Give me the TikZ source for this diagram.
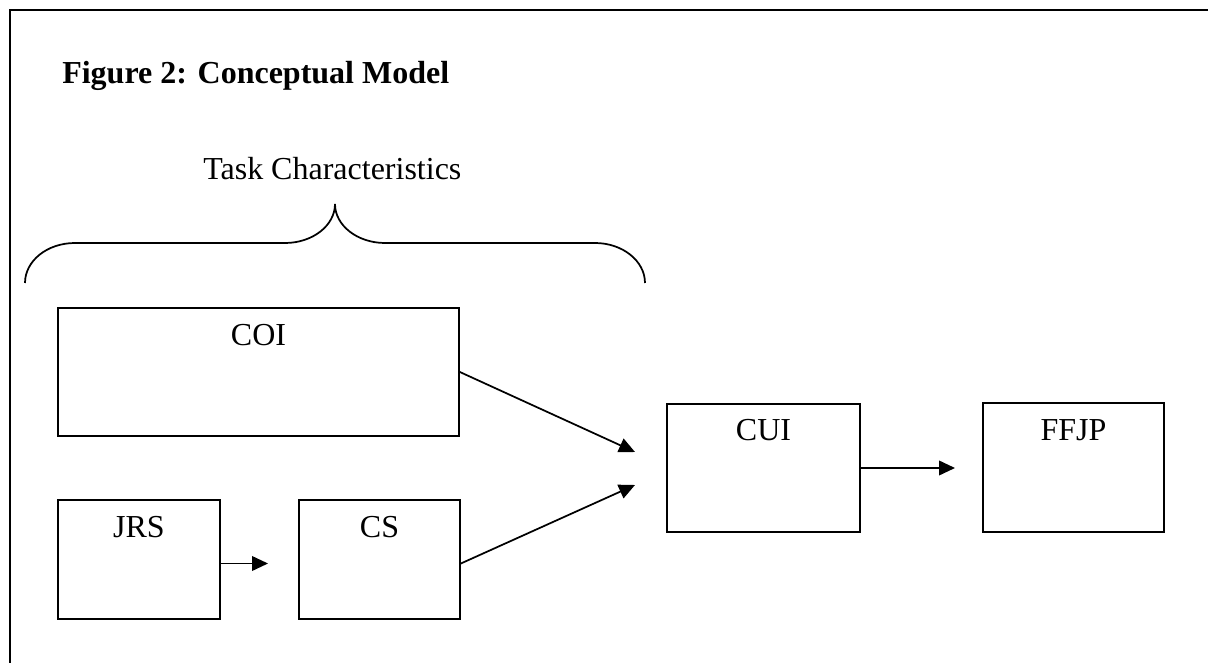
\documentclass[tikz,border=0pt]{standalone}
\usepackage{fontspec}
\setmainfont{Liberation Serif}
\usetikzlibrary{fit,calc,arrows.meta}
\tikzset{
  px/.style={x=0.75pt,y=-0.75pt},
  box/.style={draw, line width=1.3pt, inner sep=0pt},
  lbl/.style={font=\fontsize{24}{28}\selectfont, anchor=base, inner sep=0pt},
  arr/.style={line width=1.3pt, -{Triangle[length=12pt,width=11pt]}},
  frameline/.style={line width=1.5pt},
  bracestyle/.style={line width=1.3pt},
}
\begin{document}
\begin{tikzpicture}[px]
\useasboundingbox (0,0) rectangle (1208,663);
% frame
\coordinate (fa) at (10,663);
\coordinate (fb) at (10,10);
\coordinate (fc) at (1208,10);
\draw[frameline] (fa) -- (fb) -- (fc);
% title
\node[anchor=base west, inner sep=0pt, font=\fontsize{24}{28}\selectfont\bfseries] (title) at (62,84) {Figure 2: Conceptual Model};
\node[anchor=base west, inner sep=0pt, font=\fontsize{24}{28}\selectfont] (task) at (203,180) {Task Characteristics};
% brace
\coordinate (bl) at (25,283);
\coordinate (bt) at (335,204);
\coordinate (br) at (645,283);
\draw[bracestyle] (bl) .. controls (25,261) and (47,243) .. (75,243)
  -- (285,243) .. controls (312.6,243) and (335,225.5) .. (bt)
  .. controls (335,225.5) and (357.4,243) .. (385,243)
  -- (595,243) .. controls (622.6,243) and (645,261) .. (br);
% boxes
\node[box, fit={(58,308) (459,436)}] (coi) {};
\node[box, fit={(58,500) (220,619)}] (jrs) {};
\node[box, fit={(299,500) (460,619)}] (cs) {};
\node[box, fit={(667,404) (860,532)}] (cui) {};
\node[box, fit={(983,403) (1164,532)}] (ffjp) {};
% labels
\node[lbl] (coil) at ($(coi.north)+(0,38)$) {COI};
\node[lbl] (jrsl) at ($(jrs.north)+(0,38)$) {JRS};
\node[lbl] (csl) at ($(cs.north)+(0,38)$) {CS};
\node[lbl] (cuil) at ($(cui.north)+(0,37)$) {CUI};
\node[lbl] (ffjpl) at ($(ffjp.north)+(0,38)$) {FFJP};
% arrows
\coordinate (t1) at (635,452);
\coordinate (t2) at (635,485);
\coordinate (s2) at ($(cs.east)+(0,4)$);
\coordinate (s3) at ($(jrs.east)+(0,4)$);
\coordinate (t3) at (268,563.5);
\coordinate (t4) at (955,468);
\draw[arr] (coi.east) -- (t1);
\draw[arr] (s2) -- (t2);
\draw[arr] (s3) -- (t3);
\draw[arr] (cui.east) -- (t4);
\end{tikzpicture}
\end{document}
